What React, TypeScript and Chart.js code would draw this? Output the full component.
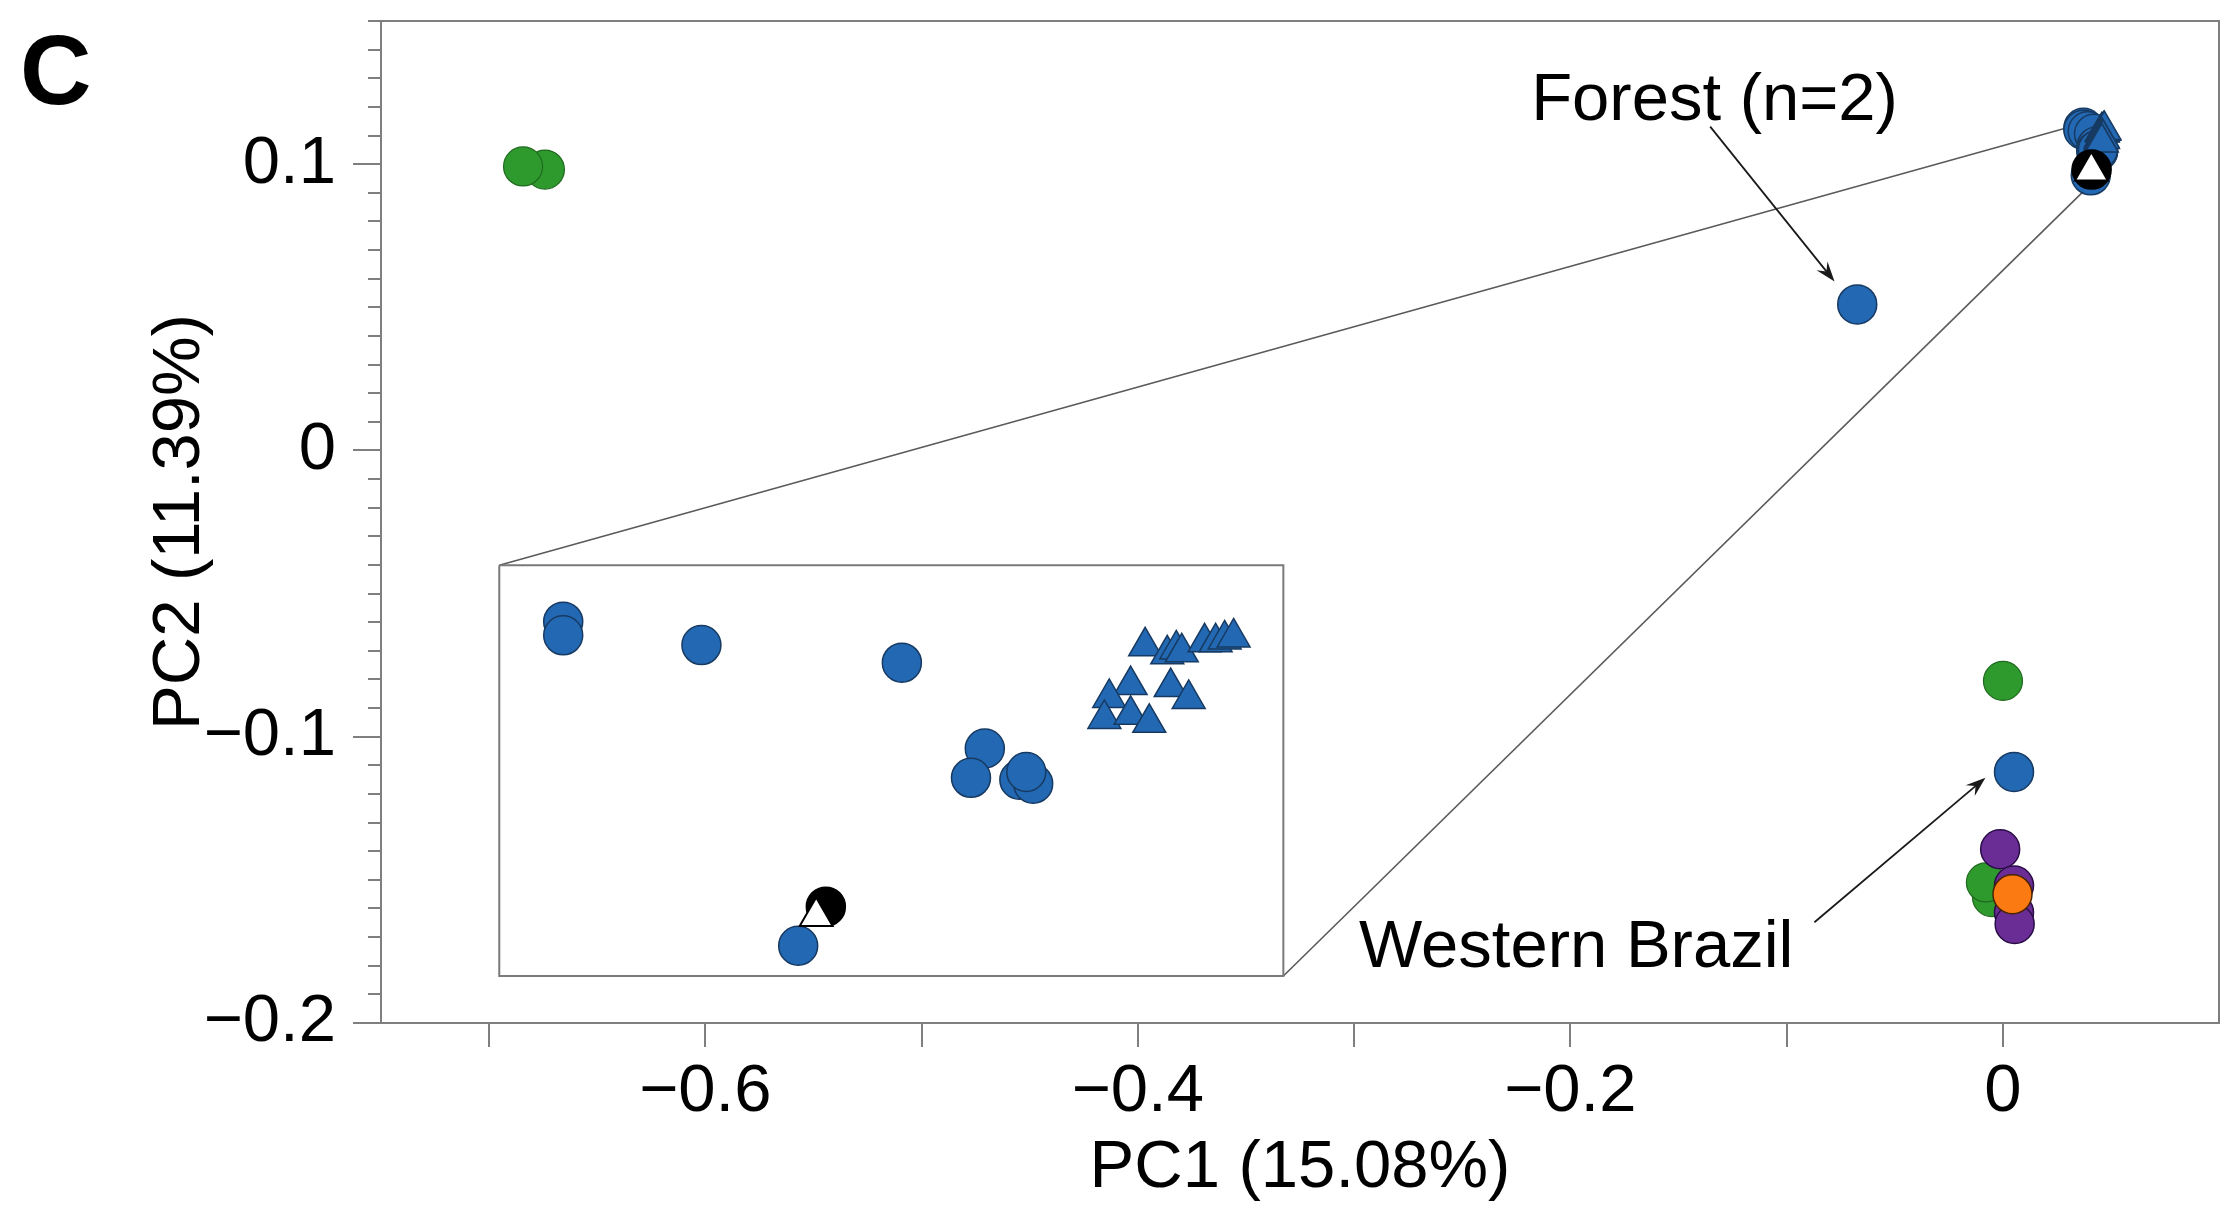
import React, { useEffect, useRef } from 'react';
import { Chart, registerables } from 'chart.js';

Chart.register(...registerables);

const FONT = "'Liberation Sans', Arial, Helvetica, sans-serif";
const FONT_SIZE = 67;
const AXIS_COLOR = '#7f7f7f';
const TEXT_COLOR = '#000000';

// ---- axes ----
const X_MIN = -0.75;
const X_MAX = 0.1;
const Y_MIN = -0.2;
const Y_MAX = 0.15;
const xTickValues = [-0.7, -0.6, -0.5, -0.4, -0.3, -0.2, -0.1, 0];
const xTickLabels = ['', '\u22120.6', '', '\u22120.4', '', '\u22120.2', '', '0'];
const yTickValues = [-0.2, -0.1, 0, 0.1];
const yTickLabels = ['\u22120.2', '\u22120.1', '0', '0.1'];
const yMinorStep = 0.01;
const xTitle = 'PC1 (15.08%)';
const yTitle = 'PC2 (11.39%)';
const panelLabel = 'C';

// ---- main series ----
const greenX = [-0.6742, -0.6843, 0.0001, -0.005, -0.0078];
const greenY = [0.0981, 0.0992, -0.0805, -0.156, -0.1509];
const blueX = [-0.0673, 0.0052];
const blueY = [0.051, -0.1123];
const purpleX = [-0.0012, 0.0052, 0.0052, 0.0055];
const purpleY = [-0.1393, -0.152, -0.1614, -0.1654];
const orangeX = [0.0045];
const orangeY = [-0.155];

// ---- cluster at the top right (also shown enlarged in the inset) ----
const clusterCircleX = [0.0373, 0.0373, 0.0393, 0.0422, 0.0434, 0.0432, 0.0439, 0.0441, 0.044, 0.0407];
const clusterCircleY = [0.1127, 0.112, 0.1115, 0.1106, 0.1062, 0.1047, 0.1046, 0.1044, 0.105, 0.0961];
const clusterTriX = [0.04572, 0.04604, 0.04617, 0.04625, 0.04658, 0.04674, 0.04687, 0.047, 0.04551, 0.0452, 0.04609, 0.04635, 0.04513, 0.04551, 0.04578];
const clusterTriY = [0.11144, 0.11103, 0.11128, 0.11113, 0.11164, 0.11164, 0.11179, 0.11189, 0.10945, 0.10879, 0.10935, 0.10874, 0.10772, 0.10793, 0.10752];
const blackCircleX = [0.0411];
const blackCircleY = [0.0981];
const whiteTriX = [0.04096];
const whiteTriY = [0.0976];

// inset window (data range shown enlarged)
const insetWindowX = [0.0364, 0.0477];
const insetWindowY = [0.0946, 0.1155];
// inset box placement, in main-chart data units
const insetBoxX = [-0.6953, -0.3327];
const insetBoxY = [-0.1836, -0.0401];
// connector line targets near the cluster
const connectorTargetX = [0.031, 0.04];
const connectorTargetY = [0.113, 0.0925];

// ---- annotations ----
const annotationTexts = ['Forest (n=2)', 'Western Brazil'];
const annotationX = [-0.2181, -0.2977];
const annotationY = [0.1155, -0.1805];
const arrowStartX = [-0.1353, -0.0871];
const arrowStartY = [0.1131, -0.1648];
const arrowEndX = [-0.0778, -0.008];
const arrowEndY = [0.059, -0.1143];

const COLORS = {
  blue: '#2368b2',
  blueEdge: '#173a62',
  green: '#2e9a2e',
  greenEdge: '#1f6a1f',
  purple: '#6a2d96',
  purpleEdge: '#2b0d48',
  orange: '#fb7a12',
  orangeEdge: '#4a2400',
};

const R = 19.5;
const TRI_R = 19;

const pts = (xs: number[], ys: number[]) => xs.map((x, i) => ({ x, y: ys[i] }));

const labelFor = (v: number, values: number[], labels: string[]) => {
  const i = values.findIndex((t) => Math.abs(t - v) < 1e-9);
  return i >= 0 ? labels[i] : '';
};

const circleSet = (label: string, xs: number[], ys: number[], fill: string, edge: string, order: number, bw = 1.5) => ({
  label,
  data: pts(xs, ys),
  pointStyle: 'circle',
  pointRadius: R,
  pointBackgroundColor: fill,
  pointBorderColor: edge,
  pointBorderWidth: bw,
  showLine: false,
  order,
});

const triSet = (label: string, xs: number[], ys: number[], fill: string, edge: string, order: number, bw = 1.5) => ({
  label,
  data: pts(xs, ys),
  pointStyle: 'triangle',
  pointRadius: TRI_R,
  pointBackgroundColor: fill,
  pointBorderColor: edge,
  pointBorderWidth: bw,
  showLine: false,
  order,
});

const clusterSets = () => [
  circleSet('cluster circles', clusterCircleX, clusterCircleY, COLORS.blue, COLORS.blueEdge, 4),
  triSet('cluster triangles', clusterTriX, clusterTriY, COLORS.blue, COLORS.blueEdge, 3),
  circleSet('black circle', blackCircleX, blackCircleY, '#000000', '#000000', 2),
  triSet('white triangle', whiteTriX, whiteTriY, '#ffffff', '#000000', 1, 2),
];

const noPad = (s: any) => {
  s.paddingTop = 0;
  s.paddingBottom = 0;
  s.paddingLeft = 0;
  s.paddingRight = 0;
};

const annotationPlugin = {
  id: 'annotationsDraw',
  afterDatasetsDraw(chart: any) {
    const { ctx } = chart;
    const xs = chart.scales.x;
    const ys = chart.scales.y;
    ctx.save();
    ctx.strokeStyle = '#1a1a1a';
    ctx.fillStyle = '#1a1a1a';
    ctx.lineWidth = 1.8;
    for (let i = 0; i < arrowStartX.length; i++) {
      const sx = xs.getPixelForValue(arrowStartX[i]);
      const sy = ys.getPixelForValue(arrowStartY[i]);
      const ex = xs.getPixelForValue(arrowEndX[i]);
      const ey = ys.getPixelForValue(arrowEndY[i]);
      const a = Math.atan2(ey - sy, ex - sx);
      const L = 20;
      const Wd = 7;
      const cx = Math.cos(a);
      const sn = Math.sin(a);
      ctx.beginPath();
      ctx.moveTo(sx, sy);
      ctx.lineTo(ex - cx * L * 0.6, ey - sn * L * 0.6);
      ctx.stroke();
      ctx.beginPath();
      ctx.moveTo(ex, ey);
      ctx.lineTo(ex - cx * L - sn * Wd, ey - sn * L + cx * Wd);
      ctx.lineTo(ex - cx * L * 0.65, ey - sn * L * 0.65);
      ctx.lineTo(ex - cx * L + sn * Wd, ey - sn * L - cx * Wd);
      ctx.closePath();
      ctx.fill();
    }
    ctx.fillStyle = TEXT_COLOR;
    ctx.font = `${FONT_SIZE}px ${FONT}`;
    ctx.textAlign = 'left';
    ctx.textBaseline = 'alphabetic';
    for (let i = 0; i < annotationTexts.length; i++) {
      ctx.fillText(annotationTexts[i], xs.getPixelForValue(annotationX[i]), ys.getPixelForValue(annotationY[i]));
    }
    ctx.restore();
  },
};

export default function App() {
  const mainRef = useRef<HTMLCanvasElement>(null);
  const insetRef = useRef<HTMLCanvasElement>(null);

  useEffect(() => {
    document.body.style.margin = '0';
    const frameData = [
      { x: insetBoxX[0], y: insetBoxY[1] },
      { x: insetBoxX[1], y: insetBoxY[1] },
      { x: insetBoxX[1], y: insetBoxY[0] },
      { x: insetBoxX[0], y: insetBoxY[0] },
      { x: insetBoxX[0], y: insetBoxY[1] },
    ];
    const connTop = [
      { x: insetBoxX[0], y: insetBoxY[1] },
      { x: connectorTargetX[0], y: connectorTargetY[0] },
    ];
    const connBottom = [
      { x: insetBoxX[1], y: insetBoxY[0] },
      { x: connectorTargetX[1], y: connectorTargetY[1] },
    ];
    const lineSet = (label: string, data: any[], color: string, width: number) => ({
      label,
      data,
      showLine: true,
      borderColor: color,
      borderWidth: width,
      pointRadius: 0,
      fill: false,
      tension: 0,
      order: 20,
    });

    const main = new Chart(mainRef.current as HTMLCanvasElement, {
      type: 'scatter',
      data: {
        datasets: [
          lineSet('inset frame', frameData, '#7a7a7a', 2),
          lineSet('connector top', connTop, '#5a5a5a', 1.6),
          lineSet('connector bottom', connBottom, '#5a5a5a', 1.6),
          circleSet('green', greenX, greenY, COLORS.green, COLORS.greenEdge, 6, 1.2),
          circleSet('blue', blueX, blueY, COLORS.blue, COLORS.blueEdge, 5),
          circleSet('purple', purpleX, purpleY, COLORS.purple, COLORS.purpleEdge, 4.5),
          ...clusterSets(),
          circleSet('orange', orangeX, orangeY, COLORS.orange, COLORS.orangeEdge, 0),
        ] as any,
      },
      options: {
        responsive: false,
        animation: false,
        events: [],
        layout: { autoPadding: false, padding: { top: 21, right: 3, left: 0, bottom: 0 } },
        plugins: { legend: { display: false }, tooltip: { enabled: false } },
        scales: {
          x: {
            type: 'linear',
            position: 'bottom',
            min: X_MIN,
            max: X_MAX,
            afterBuildTicks: (s: any) => {
              s.ticks = xTickValues.map((v) => ({ value: v }));
            },
            afterFit: (s: any) => {
              s.height = 191;
              noPad(s);
            },
            grid: { display: true, drawOnChartArea: false, drawTicks: true, tickLength: 24, color: AXIS_COLOR, lineWidth: 2 },
            border: { display: true, color: AXIS_COLOR, width: 2 },
            ticks: {
              autoSkip: false,
              maxRotation: 0,
              padding: 5,
              color: TEXT_COLOR,
              font: { family: FONT, size: FONT_SIZE },
              callback: (v: any) => labelFor(Number(v), xTickValues, xTickLabels),
            },
            title: { display: true, text: xTitle, color: TEXT_COLOR, font: { family: FONT, size: FONT_SIZE }, padding: { top: 0, bottom: 5 } },
          },
          y: {
            type: 'linear',
            position: 'left',
            weight: 1,
            min: Y_MIN,
            max: Y_MAX,
            afterBuildTicks: (s: any) => {
              s.ticks = yTickValues.map((v) => ({ value: v }));
            },
            afterFit: (s: any) => {
              s.width = 381;
              noPad(s);
            },
            grid: { display: true, drawOnChartArea: false, drawTicks: true, tickLength: 28, color: AXIS_COLOR, lineWidth: 2 },
            border: { display: true, color: AXIS_COLOR, width: 2 },
            ticks: {
              autoSkip: false,
              padding: 17,
              color: TEXT_COLOR,
              font: { family: FONT, size: FONT_SIZE },
              callback: (v: any) => labelFor(Number(v), yTickValues, yTickLabels),
            },
            title: { display: true, text: yTitle, color: TEXT_COLOR, font: { family: FONT, size: FONT_SIZE }, padding: { top: 140, bottom: 0 } },
          },
          yMinor: {
            type: 'linear',
            position: 'left',
            weight: 0,
            min: Y_MIN,
            max: Y_MAX,
            afterFit: (s: any) => {
              s.width = 0;
              noPad(s);
            },
            grid: { display: true, drawOnChartArea: false, drawTicks: true, tickLength: 13, color: AXIS_COLOR, lineWidth: 2 },
            border: { display: false },
            ticks: { display: false, stepSize: yMinorStep, autoSkip: false },
          },
          xTop: {
            type: 'linear',
            position: 'top',
            min: X_MIN,
            max: X_MAX,
            afterFit: (s: any) => {
              s.height = 0;
              noPad(s);
            },
            grid: { display: true, drawOnChartArea: false, drawTicks: false },
            border: { display: true, color: AXIS_COLOR, width: 2 },
            ticks: { display: false },
          },
          yRight: {
            type: 'linear',
            position: 'right',
            min: Y_MIN,
            max: Y_MAX,
            afterFit: (s: any) => {
              s.width = 0;
              noPad(s);
            },
            grid: { display: true, drawOnChartArea: false, drawTicks: false },
            border: { display: true, color: AXIS_COLOR, width: 2 },
            ticks: { display: false },
          },
        } as any,
      },
      plugins: [annotationPlugin],
    });

    const xs = main.scales.x;
    const ys = main.scales.y;
    const left = xs.getPixelForValue(insetBoxX[0]);
    const right = xs.getPixelForValue(insetBoxX[1]);
    const top = ys.getPixelForValue(insetBoxY[1]);
    const bottom = ys.getPixelForValue(insetBoxY[0]);
    const c = insetRef.current as HTMLCanvasElement;
    const w = Math.round(right - left) - 3;
    const h = Math.round(bottom - top) - 3;
    c.width = w;
    c.height = h;
    c.style.left = `${Math.round(left) + 2}px`;
    c.style.top = `${Math.round(top) + 2}px`;
    c.style.width = `${w}px`;
    c.style.height = `${h}px`;

    const inset = new Chart(c, {
      type: 'scatter',
      data: { datasets: clusterSets() as any },
      options: {
        responsive: false,
        animation: false,
        events: [],
        layout: { autoPadding: false, padding: 0 },
        plugins: { legend: { display: false }, tooltip: { enabled: false } },
        scales: {
          x: { type: 'linear', display: false, min: insetWindowX[0], max: insetWindowX[1] },
          y: { type: 'linear', display: false, min: insetWindowY[0], max: insetWindowY[1] },
        },
      },
    });

    return () => {
      inset.destroy();
      main.destroy();
    };
  }, []);

  return (
    <div style={{ position: 'fixed', left: 0, top: 0, width: 2222, height: 1214, background: '#ffffff', overflow: 'hidden' }}>
      <canvas ref={mainRef} width={2222} height={1214} style={{ position: 'absolute', left: 0, top: 0, width: 2222, height: 1214 }} />
      <canvas ref={insetRef} style={{ position: 'absolute' }} />
      <div style={{ position: 'absolute', left: 20, top: 20, font: `bold 99px ${FONT}`, lineHeight: '99px', color: '#000' }}>{panelLabel}</div>
    </div>
  );
}
